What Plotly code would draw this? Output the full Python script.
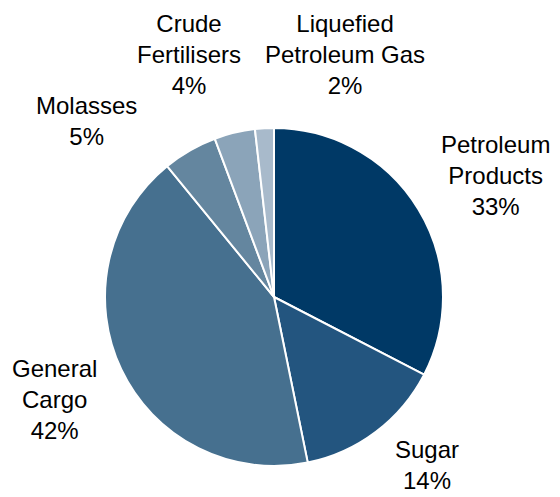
import plotly.graph_objects as go

categories = ["Petroleum Products", "Sugar", "General Cargo", "Molasses",
              "Crude Fertilisers", "Liquefied Petroleum Gas"]
label_text = ["Petroleum<br>Products", "Sugar", "General<br>Cargo", "Molasses",
              "Crude<br>Fertilisers", "Liquefied<br>Petroleum Gas"]
shares = [32.6, 14.2, 42.3, 5.2, 3.9, 1.8]
colors = ["#003966", "#23557f", "#46708f", "#64869f", "#8ba4b9", "#a8bacb"]

# label centre positions in figure pixels (x from left, y from top)
label_pos = [(487, 167), (419, 457), (47, 391), (78, 113), (181, 47), (337, 47)]

W, H = 560, 497

fig = go.Figure(go.Pie(
    labels=categories,
    values=shares,
    sort=False,
    direction="clockwise",
    rotation=0,
    marker=dict(colors=colors, line=dict(color="white", width=2)),
    textinfo="none",
    hoverinfo="label+percent",
    showlegend=False,
    domain=dict(x=[97 / W, 435 / W], y=[1 - 458 / H, 1 - 120 / H]),
))

total = sum(shares)
for txt, v, (px_, py_) in zip(label_text, shares, label_pos):
    fig.add_annotation(
        x=px_ / W, y=1 - py_ / H, xref="paper", yref="paper",
        text=f"{txt}<br>{round(v / total * 100)}%",
        showarrow=False, xanchor="center", yanchor="middle",
        font=dict(family="Liberation Sans, Arial", size=24, color="black"),
    )

fig.update_layout(
    width=W, height=H,
    margin=dict(l=0, r=0, t=0, b=0),
    paper_bgcolor="white",
    plot_bgcolor="white",
)

fig.write_html("out.html")
